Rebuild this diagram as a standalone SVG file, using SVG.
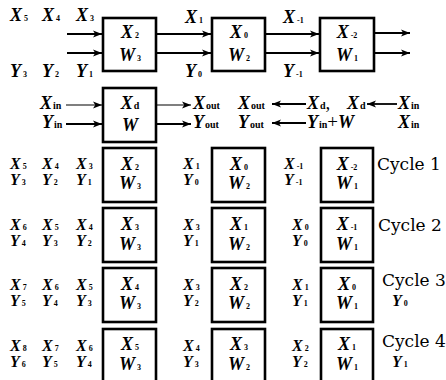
<svg xmlns="http://www.w3.org/2000/svg" width="446" height="380" viewBox="0 0 446 380">
<style>
.v{font-family:"Liberation Serif","Times New Roman",serif;font-style:italic;font-weight:bold;font-size:18px;fill:#000}
.r .v{font-size:16px}
.s{font-size:8px;font-style:normal;font-weight:bold;fill:#000}
.u{font-size:10px;font-style:normal;font-weight:bold;fill:#000}
.p{font-style:normal;font-weight:normal;font-size:19px}
.m{text-anchor:middle}
.c{font-family:"DejaVu Serif","Liberation Serif",serif;font-size:17px;fill:#000}
.box{fill:#fff;stroke:#000;stroke-width:2.6}
.a{stroke:#000;stroke-width:1.8;fill:none;marker-end:url(#ah)}
.t{stroke:#000;stroke-width:1.1;fill:none;marker-end:url(#ah)}
</style>
<defs>
<marker id="ah" viewBox="0 0 10 10" refX="10" refY="5" markerWidth="9" markerHeight="9" markerUnits="userSpaceOnUse" orient="auto">
<path d="M0,1 L10,5 L0,9 L2.5,5 z" fill="#000"/>
</marker>
</defs>
<rect width="446" height="380" fill="#fff"/>

<g id="connectors">
<line class="a" x1="67" y1="34" x2="102" y2="34"/>
<line class="a" x1="67" y1="53" x2="102" y2="53"/>
<line class="a" x1="157" y1="34" x2="211" y2="34"/>
<line class="a" x1="157" y1="53" x2="211" y2="53"/>
<line class="a" x1="266" y1="34" x2="319" y2="34"/>
<line class="a" x1="266" y1="53" x2="319" y2="53"/>
<line class="a" x1="375" y1="33" x2="410" y2="33"/>
<line class="a" x1="375" y1="53" x2="410" y2="53"/>
<line class="t" x1="66" y1="105" x2="102" y2="105"/>
<line class="a" x1="66" y1="124" x2="102" y2="124"/>
<line class="t" x1="157" y1="105" x2="191" y2="105"/>
<line class="a" x1="157" y1="124" x2="191" y2="124"/>
<line class="a" x1="306" y1="104" x2="272" y2="104"/>
<line class="a" x1="397" y1="104" x2="367" y2="104"/>
<line class="a" x1="306" y1="123" x2="272" y2="123"/>
</g>

<g id="top-labels">
<text class="v" x="10" y="21">X<tspan class="s" dx="2">5</tspan></text>
<text class="v" x="42" y="21">X<tspan class="s" dx="2">4</tspan></text>
<text class="v" x="76" y="21">X<tspan class="s" dx="2">3</tspan></text>
<text class="v" x="10" y="77">Y<tspan class="s" dx="2">3</tspan></text>
<text class="v" x="42" y="77">Y<tspan class="s" dx="2">2</tspan></text>
<text class="v" x="76" y="77">Y<tspan class="s" dx="2">1</tspan></text>
<text class="v" x="185" y="23">X<tspan class="s" dx="2">1</tspan></text>
<text class="v" x="185" y="77">Y<tspan class="s" dx="2">0</tspan></text>
<text class="v" x="283" y="23">X<tspan class="s" dx="2">-1</tspan></text>
<text class="v" x="283" y="77">Y<tspan class="s" dx="2">-1</tspan></text>
</g>
<g id="pe1"><rect class="box" x="103" y="18" width="53" height="53"/>
<text class="v m" x="130" y="38">X<tspan class="s" dx="2">2</tspan></text>
<text class="v m" x="130" y="61">W<tspan class="s" dx="2">3</tspan></text></g>
<g id="pe2"><rect class="box" x="212" y="18" width="53" height="53"/>
<text class="v m" x="239" y="38">X<tspan class="s" dx="2">0</tspan></text>
<text class="v m" x="239" y="61">W<tspan class="s" dx="2">2</tspan></text></g>
<g id="pe3"><rect class="box" x="320" y="18" width="54" height="53"/>
<text class="v m" x="347" y="38">X<tspan class="s" dx="2">-2</tspan></text>
<text class="v m" x="347" y="61">W<tspan class="s" dx="2">1</tspan></text></g>

<g id="legend-labels">
<text class="v" x="40" y="109">X<tspan class="u" dx="1">in</tspan></text>
<text class="v" x="42" y="128">Y<tspan class="u" dx="1">in</tspan></text>
<text class="v" x="193" y="109">X<tspan class="u" dx="1">out</tspan></text>
<text class="v" x="193" y="128">Y<tspan class="u" dx="1">out</tspan></text>
<text class="v" x="238" y="109">X<tspan class="u" dx="1">out</tspan></text>
<text class="v" x="307" y="109">X<tspan class="u" dx="1">d</tspan><tspan class="p">,</tspan></text>
<text class="v" x="347" y="109">X<tspan class="u" dx="1">d</tspan></text>
<text class="v" x="398" y="109">X<tspan class="u" dx="1">in</tspan></text>
<text class="v" x="238" y="128">Y<tspan class="u" dx="1">out</tspan></text>
<text class="v" x="307" y="128">Y<tspan class="u" dx="1">in</tspan><tspan class="p">+</tspan>W</text>
<text class="v" x="398" y="128">X<tspan class="u" dx="1">in</tspan></text>
</g>
<g id="pe-legend"><rect class="box" x="103" y="88" width="53" height="54"/>
<text class="v m" x="130" y="109">X<tspan class="u" dx="1">d</tspan></text>
<text class="v m" x="130" y="131">W</text></g>

<g id="cycle1" class="r">
<text class="v" x="10" y="169">X<tspan class="s" dx="2">5</tspan></text>
<text class="v" x="42" y="169">X<tspan class="s" dx="2">4</tspan></text>
<text class="v" x="76" y="169">X<tspan class="s" dx="2">3</tspan></text>
<text class="v" x="10" y="185">Y<tspan class="s" dx="2">3</tspan></text>
<text class="v" x="42" y="185">Y<tspan class="s" dx="2">2</tspan></text>
<text class="v" x="76" y="185">Y<tspan class="s" dx="2">1</tspan></text>
<text class="v" x="183" y="169">X<tspan class="s" dx="2">1</tspan></text>
<text class="v" x="183" y="185">Y<tspan class="s" dx="2">0</tspan></text>
<text class="v" x="284" y="169">X<tspan class="s" dx="2">-1</tspan></text>
<text class="v" x="284" y="185">Y<tspan class="s" dx="2">-1</tspan></text>
<text class="c" x="377" y="170">Cycle 1</text>
</g>
<g id="c1a"><rect class="box" x="103" y="148" width="53" height="54"/>
<text class="v m" x="130" y="170">X<tspan class="s" dx="2">2</tspan></text>
<text class="v m" x="130" y="189">W<tspan class="s" dx="2">3</tspan></text></g>
<g id="c1b"><rect class="box" x="212" y="148" width="53" height="54"/>
<text class="v m" x="239" y="170">X<tspan class="s" dx="2">0</tspan></text>
<text class="v m" x="239" y="189">W<tspan class="s" dx="2">2</tspan></text></g>
<g id="c1c"><rect class="box" x="321" y="148" width="52" height="54"/>
<text class="v m" x="347" y="170">X<tspan class="s" dx="2">-2</tspan></text>
<text class="v m" x="347" y="189">W<tspan class="s" dx="2">1</tspan></text></g>

<g id="cycle2" class="r">
<text class="v" x="10" y="230">X<tspan class="s" dx="2">6</tspan></text>
<text class="v" x="42" y="230">X<tspan class="s" dx="2">5</tspan></text>
<text class="v" x="76" y="230">X<tspan class="s" dx="2">4</tspan></text>
<text class="v" x="10" y="246">Y<tspan class="s" dx="2">4</tspan></text>
<text class="v" x="42" y="246">Y<tspan class="s" dx="2">3</tspan></text>
<text class="v" x="76" y="246">Y<tspan class="s" dx="2">2</tspan></text>
<text class="v" x="183" y="230">X<tspan class="s" dx="2">3</tspan></text>
<text class="v" x="183" y="246">Y<tspan class="s" dx="2">1</tspan></text>
<text class="v" x="292" y="230">X<tspan class="s" dx="2">0</tspan></text>
<text class="v" x="292" y="246">Y<tspan class="s" dx="2">0</tspan></text>
<text class="c" x="378" y="231">Cycle 2</text>
</g>
<g id="c2a"><rect class="box" x="103" y="208" width="53" height="54"/>
<text class="v m" x="130" y="230">X<tspan class="s" dx="2">3</tspan></text>
<text class="v m" x="130" y="250">W<tspan class="s" dx="2">3</tspan></text></g>
<g id="c2b"><rect class="box" x="212" y="208" width="53" height="54"/>
<text class="v m" x="239" y="230">X<tspan class="s" dx="2">1</tspan></text>
<text class="v m" x="239" y="250">W<tspan class="s" dx="2">2</tspan></text></g>
<g id="c2c"><rect class="box" x="321" y="208" width="52" height="54"/>
<text class="v m" x="347" y="230">X<tspan class="s" dx="2">-1</tspan></text>
<text class="v m" x="347" y="250">W<tspan class="s" dx="2">1</tspan></text></g>

<g id="cycle3" class="r">
<text class="v" x="10" y="290">X<tspan class="s" dx="2">7</tspan></text>
<text class="v" x="42" y="290">X<tspan class="s" dx="2">6</tspan></text>
<text class="v" x="76" y="290">X<tspan class="s" dx="2">5</tspan></text>
<text class="v" x="10" y="306">Y<tspan class="s" dx="2">5</tspan></text>
<text class="v" x="42" y="306">Y<tspan class="s" dx="2">4</tspan></text>
<text class="v" x="76" y="306">Y<tspan class="s" dx="2">3</tspan></text>
<text class="v" x="183" y="290">X<tspan class="s" dx="2">3</tspan></text>
<text class="v" x="183" y="306">Y<tspan class="s" dx="2">2</tspan></text>
<text class="v" x="292" y="290">X<tspan class="s" dx="2">1</tspan></text>
<text class="v" x="292" y="306">Y<tspan class="s" dx="2">1</tspan></text>
<text class="c" x="382" y="286">Cycle 3</text>
<text class="v" x="392" y="306">Y<tspan class="s" dx="2">0</tspan></text>
</g>
<g id="c3a"><rect class="box" x="103" y="268" width="53" height="54"/>
<text class="v m" x="130" y="290">X<tspan class="s" dx="2">4</tspan></text>
<text class="v m" x="130" y="309">W<tspan class="s" dx="2">3</tspan></text></g>
<g id="c3b"><rect class="box" x="212" y="268" width="53" height="54"/>
<text class="v m" x="239" y="290">X<tspan class="s" dx="2">2</tspan></text>
<text class="v m" x="239" y="309">W<tspan class="s" dx="2">2</tspan></text></g>
<g id="c3c"><rect class="box" x="321" y="268" width="52" height="54"/>
<text class="v m" x="347" y="290">X<tspan class="s" dx="2">0</tspan></text>
<text class="v m" x="347" y="309">W<tspan class="s" dx="2">1</tspan></text></g>

<g id="cycle4" class="r">
<text class="v" x="10" y="351">X<tspan class="s" dx="2">8</tspan></text>
<text class="v" x="42" y="351">X<tspan class="s" dx="2">7</tspan></text>
<text class="v" x="76" y="351">X<tspan class="s" dx="2">6</tspan></text>
<text class="v" x="10" y="367">Y<tspan class="s" dx="2">6</tspan></text>
<text class="v" x="42" y="367">Y<tspan class="s" dx="2">5</tspan></text>
<text class="v" x="76" y="367">Y<tspan class="s" dx="2">4</tspan></text>
<text class="v" x="183" y="351">X<tspan class="s" dx="2">4</tspan></text>
<text class="v" x="183" y="367">Y<tspan class="s" dx="2">3</tspan></text>
<text class="v" x="292" y="351">X<tspan class="s" dx="2">2</tspan></text>
<text class="v" x="292" y="367">Y<tspan class="s" dx="2">2</tspan></text>
<text class="c" x="382" y="347">Cycle 4</text>
<text class="v" x="392" y="367">Y<tspan class="s" dx="2">1</tspan></text>
</g>
<g id="c4a"><rect class="box" x="103" y="329" width="53" height="54"/>
<text class="v m" x="130" y="350">X<tspan class="s" dx="2">5</tspan></text>
<text class="v m" x="130" y="370">W<tspan class="s" dx="2">3</tspan></text></g>
<g id="c4b"><rect class="box" x="212" y="329" width="53" height="54"/>
<text class="v m" x="239" y="350">X<tspan class="s" dx="2">3</tspan></text>
<text class="v m" x="239" y="370">W<tspan class="s" dx="2">2</tspan></text></g>
<g id="c4c"><rect class="box" x="321" y="329" width="52" height="54"/>
<text class="v m" x="347" y="350">X<tspan class="s" dx="2">1</tspan></text>
<text class="v m" x="347" y="370">W<tspan class="s" dx="2">1</tspan></text></g>
</svg>
